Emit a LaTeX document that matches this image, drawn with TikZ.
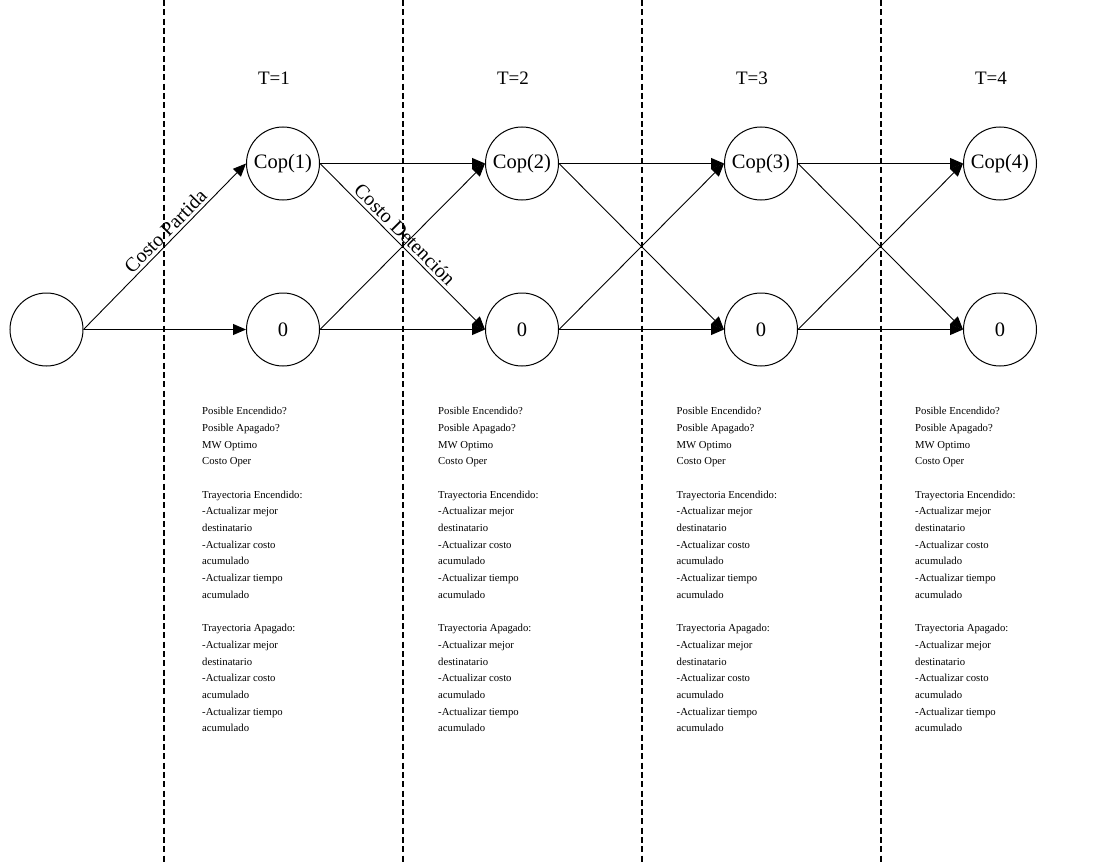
\documentclass[tikz,border=0pt]{standalone}
\usepackage{fontspec}
\setmainfont{Liberation Serif}
\usepackage{tikz}
\usetikzlibrary{arrows.meta,positioning}
\newcommand{\etapatexto}{%
  Posible Encendido?\\ Posible Apagado?\\ MW Optimo\\ Costo Oper\\[16.7pt]
  Trayectoria Encendido:\\ -Actualizar mejor\\ destinatario\\ -Actualizar costo\\
  acumulado\\ -Actualizar tiempo\\ acumulado\\[16.7pt]
  Trayectoria Apagado:\\ -Actualizar mejor\\ destinatario\\ -Actualizar costo\\
  acumulado\\ -Actualizar tiempo\\ acumulado}
\tikzset{
  estado/.style={circle, draw=black, line width=1pt, minimum size=73pt, inner sep=0pt,
                 font=\fontsize{20.5}{24}\selectfont},
  trans/.style={-{Triangle[length=13pt, width=11pt]}, draw=black, line width=0.9pt},
  corte/.style={draw=black, line width=2pt, dash pattern=on 6pt off 3.3pt},
  tiempo/.style={font=\fontsize{19}{23}\selectfont},
  etiq/.style={font=\fontsize{20}{24}\selectfont, sloped, above, inner sep=3pt},
  infobox/.style={anchor=north west, align=left, inner sep=0pt,
                  font=\fontsize{10.7}{16.7}\selectfont}
}
\begin{document}
\begin{tikzpicture}[x=1pt, y=-1pt]
 \useasboundingbox (0,0) rectangle (1117,864);
 % separadores de etapa
 \draw[corte] (163.5,0) -- (163.5,864);
 \draw[corte] (402.5,0) -- (402.5,864);
 \draw[corte] (641.5,0) -- (641.5,864);
 \draw[corte] (880.5,0) -- (880.5,864);
 % estados
 \node[estado] (ini) at (46.5,329.5) {};
 \node[estado] (cop1) at (283,163.5) {Cop(1)};
 \node[estado] (cop2) at (522,163.5) {Cop(2)};
 \node[estado] (cop3) at (761,163.5) {Cop(3)};
 \node[estado] (cop4) at (1000,163.5) {Cop(4)};
 \node[estado] (off1) at (283,329.5) {0};
 \node[estado] (off2) at (522,329.5) {0};
 \node[estado] (off3) at (761,329.5) {0};
 \node[estado] (off4) at (1000,329.5) {0};
 % etapas
 \node[tiempo] (t1) at (274,78) {T=1};
 \node[tiempo] (t2) at (513,78) {T=2};
 \node[tiempo] (t3) at (752,78) {T=3};
 \node[tiempo] (t4) at (991,78) {T=4};
 % transiciones
 \draw[trans] (ini.east) -- node[etiq, pos=0.55] {Costo Partida} (cop1.west);
 \draw[trans] (ini.east) -- (off1.west);
 \draw[trans] (cop1.east) -- (cop2.west);
 \draw[trans] (cop1.east) -- node[etiq, pos=0.47] {Costo Detención} (off2.west);
 \draw[trans] (off1.east) -- (cop2.west);
 \draw[trans] (off1.east) -- (off2.west);
 \draw[trans] (cop2.east) -- (cop3.west);
 \draw[trans] (cop2.east) -- (off3.west);
 \draw[trans] (off2.east) -- (cop3.west);
 \draw[trans] (off2.east) -- (off3.west);
 \draw[trans] (cop3.east) -- (cop4.west);
 \draw[trans] (cop3.east) -- (off4.west);
 \draw[trans] (off3.east) -- (cop4.west);
 \draw[trans] (off3.east) -- (off4.west);
 % tareas por etapa
 \node[infobox] (info1) at (202,407) {\etapatexto};
 \node[infobox] (info2) at (438,407) {\etapatexto};
 \node[infobox] (info3) at (676.5,407) {\etapatexto};
 \node[infobox] (info4) at (915,407) {\etapatexto};
\end{tikzpicture}
\end{document}
